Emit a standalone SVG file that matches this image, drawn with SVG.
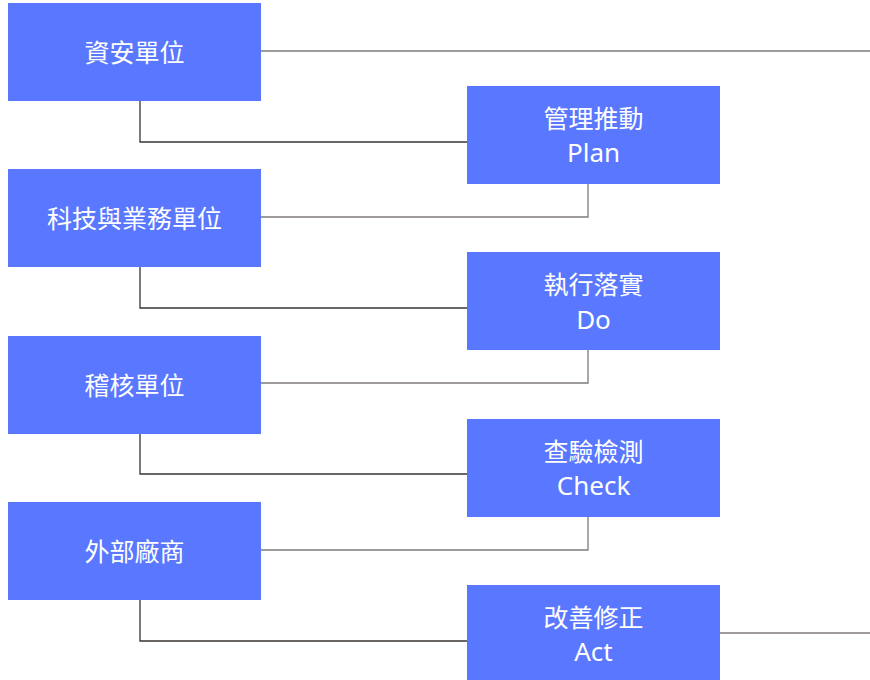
<svg xmlns="http://www.w3.org/2000/svg" width="870" height="680" viewBox="0 0 870 680">
<style>
.box{fill:#5a78ff}
.t{font-family:"Noto Sans","Noto Sans CJK TC",sans-serif;font-size:25px;fill:#fff;text-anchor:middle;dominant-baseline:central}
.l{font-size:26px}
.c1{fill:none;stroke:#3a3432;stroke-width:1.3}
.c2{fill:none;stroke:#7f7b7a;stroke-width:1.3}
</style>
<rect width="870" height="680" fill="#fff"/>
<g id="connectors">
<path class="c2" d="M261,51 H870"/>
<path class="c1" d="M140,101 V142 H467"/>
<path class="c2" d="M588,184 V217 H261"/>
<path class="c1" d="M140,267 V308 H467"/>
<path class="c2" d="M588,350 V383 H261"/>
<path class="c1" d="M140,434 V474 H467"/>
<path class="c2" d="M588,517 V550 H261"/>
<path class="c1" d="M140,600 V641 H467"/>
<path class="c2" d="M720,633 H870"/>
</g>
<g id="n1"><rect class="box" x="8" y="3" width="253" height="98"/><text class="t" x="134.5" y="52">資安單位</text></g>
<g id="n2"><rect class="box" x="8" y="169" width="253" height="98"/><text class="t" x="134.5" y="218">科技與業務單位</text></g>
<g id="n3"><rect class="box" x="8" y="336" width="253" height="98"/><text class="t" x="134.5" y="385">稽核單位</text></g>
<g id="n4"><rect class="box" x="8" y="502" width="253" height="98"/><text class="t" x="134.5" y="551">外部廠商</text></g>
<g id="p1"><rect class="box" x="467" y="86" width="253" height="98"/><text class="t" x="593.5" y="118">管理推動</text><text class="t l" x="593.5" y="152">Plan</text></g>
<g id="p2"><rect class="box" x="467" y="252" width="253" height="98"/><text class="t" x="593.5" y="284">執行落實</text><text class="t l" x="593.5" y="319">Do</text></g>
<g id="p3"><rect class="box" x="467" y="419" width="253" height="98"/><text class="t" x="593.5" y="451">查驗檢測</text><text class="t l" x="593.5" y="485">Check</text></g>
<g id="p4"><rect class="box" x="467" y="585" width="253" height="98"/><text class="t" x="593.5" y="617">改善修正</text><text class="t l" x="593.5" y="651">Act</text></g>
</svg>
